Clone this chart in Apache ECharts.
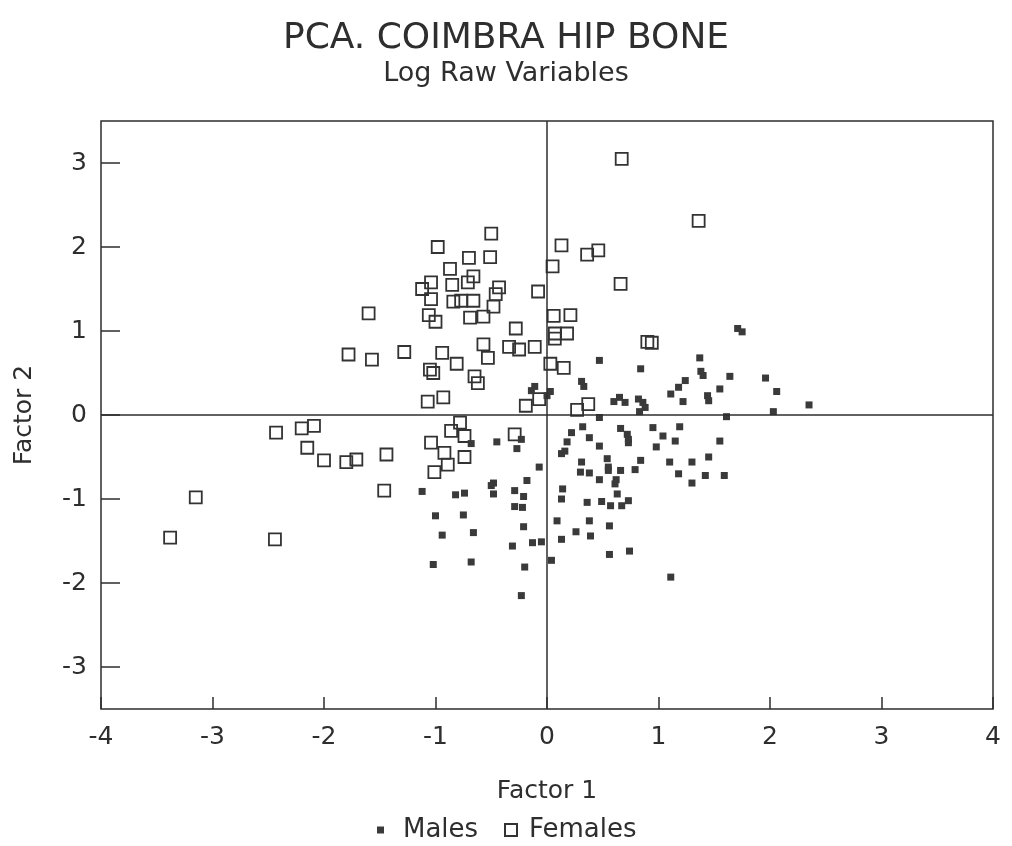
<!DOCTYPE html>
<html><head><meta charset="utf-8">
<script src="https://cdn.jsdelivr.net/npm/echarts@6/dist/echarts.min.js"></script>
<style>html,body{margin:0;padding:0;background:#fff}#c{width:1012px;height:846px}</style>
</head><body><div id="c"></div>
<script>
const titleText = 'PCA. COIMBRA HIP BONE';
const subtitleText = 'Log Raw Variables';
const xAxisName = 'Factor 1';
const yAxisName = 'Factor 2';
const seriesNames = ['Males', 'Females'];
const xTickValues = [-4, -3, -2, -1, 0, 1, 2, 3, 4];
const yTickValues = [-3, -2, -1, 0, 1, 2, 3];

const males = [
[1.71,1.03],[1.75,0.99],[0.47,0.65],[1.37,0.68],[0.84,0.55],[1.38,0.52],[1.40,0.47],[1.64,0.46],[1.96,0.44],
[0.31,0.40],[0.33,0.34],[1.24,0.41],[1.18,0.33],[1.11,0.25],[1.55,0.31],[2.06,0.28],[0.03,0.28],[0.00,0.23],
[0.60,0.16],[0.65,0.21],[0.70,0.15],[0.82,0.19],[0.86,0.15],[0.88,0.09],[0.83,0.04],[1.22,0.16],[1.44,0.23],
[1.45,0.17],[2.35,0.12],[2.03,0.04],[0.47,-0.03],[1.61,-0.02],[1.55,-0.31],[1.45,-0.50],[1.30,-0.56],[1.42,-0.72],
[1.59,-0.72],[1.30,-0.81],[0.32,-0.14],[0.22,-0.21],[0.18,-0.32],[0.16,-0.43],[0.13,-0.46],[0.38,-0.27],[0.47,-0.37],
[0.66,-0.16],[0.72,-0.23],[0.73,-0.29],[0.73,-0.33],[0.95,-0.15],[1.04,-0.25],[1.19,-0.14],[1.15,-0.31],[0.98,-0.38],
[0.31,-0.56],[0.30,-0.68],[0.38,-0.69],[0.54,-0.52],[0.55,-0.62],[0.55,-0.66],[0.47,-0.77],[0.66,-0.66],[0.84,-0.54],
[0.79,-0.65],[0.62,-0.77],[0.61,-0.82],[1.10,-0.56],[1.18,-0.70],[0.14,-0.88],[0.13,-1.00],[0.36,-1.04],[0.49,-1.03],
[0.57,-1.08],[0.63,-0.94],[0.67,-1.08],[0.73,-1.02],[0.09,-1.26],[0.38,-1.26],[0.56,-1.32],[0.26,-1.39],[0.39,-1.44],
[0.13,-1.48],[0.56,-1.66],[0.74,-1.62],[0.04,-1.73],[1.11,-1.93],[-0.68,-0.34],[-0.45,-0.32],[-0.23,-0.29],
[-0.27,-0.40],[-0.07,-0.62],[-0.18,-0.78],[-0.48,-0.81],[-0.50,-0.84],[-0.48,-0.94],[-1.12,-0.91],[-0.82,-0.95],
[-0.74,-0.93],[-0.29,-0.90],[-0.21,-0.97],[-0.29,-1.09],[-0.22,-1.10],[-1.00,-1.20],[-0.75,-1.19],[-0.21,-1.33],
[-0.94,-1.43],[-0.66,-1.40],[-0.31,-1.56],[-0.13,-1.52],[-0.05,-1.51],[-1.02,-1.78],[-0.68,-1.75],[-0.20,-1.81],
[-0.23,-2.15],[-0.11,0.34],[-0.14,0.29]
];

const females = [
[0.67,3.05],[1.36,2.31],[-0.98,2.00],[-0.50,2.16],[-0.51,1.88],[-0.70,1.87],[-0.87,1.74],[-1.04,1.58],[-1.12,1.50],
[-0.85,1.55],[-0.66,1.65],[-0.71,1.58],[-0.43,1.52],[-0.46,1.44],[-1.04,1.38],[-0.84,1.35],[-0.77,1.36],[-0.66,1.36],
[-0.48,1.29],[-0.08,1.47],[0.13,2.02],[0.36,1.91],[0.46,1.96],[0.05,1.77],[0.66,1.56],[0.06,1.18],[0.21,1.19],
[0.07,0.97],[0.07,0.91],[0.18,0.97],[0.94,0.86],[0.90,0.87],[0.03,0.61],[0.15,0.56],[0.37,0.13],[0.27,0.06],
[-1.06,1.19],[-1.00,1.11],[-0.69,1.16],[-0.57,1.17],[-0.28,1.03],[-1.28,0.75],[-0.94,0.74],[-0.57,0.84],[-0.53,0.68],
[-0.34,0.81],[-0.25,0.78],[-0.11,0.81],[-1.05,0.54],[-1.02,0.50],[-0.81,0.61],[-0.65,0.46],[-0.62,0.38],[-1.07,0.16],
[-0.93,0.21],[-0.19,0.11],[-0.07,0.19],[-1.60,1.21],[-1.78,0.72],[-1.57,0.66],[-2.43,-0.21],[-2.20,-0.16],[-2.09,-0.13],
[-2.15,-0.39],[-2.00,-0.54],[-1.80,-0.56],[-1.71,-0.53],[-1.44,-0.47],[-3.15,-0.98],[-3.38,-1.46],[-2.44,-1.48],
[-1.46,-0.90],[-0.78,-0.09],[-0.86,-0.19],[-0.74,-0.25],[-1.04,-0.33],[-0.92,-0.45],[-0.74,-0.50],[-0.89,-0.59],
[-1.01,-0.68],[-0.29,-0.23]
];

const ink = '#2e2e2e';
const font = 'DejaVu Sans';
const chart = echarts.init(document.getElementById('c'), null, {renderer: 'canvas'});
chart.setOption({
  animation: false,
  backgroundColor: '#fff',
  title: {
    text: titleText, subtext: subtitleText, left: 'center', top: 16, itemGap: 3,
    textStyle: {fontFamily: font, fontSize: 36, fontWeight: 'normal', color: ink},
    subtextStyle: {fontFamily: font, fontSize: 27, color: ink}
  },
  grid: {left: 101, right: 19, top: 121, bottom: 137, show: true, borderColor: ink, borderWidth: 1.5, backgroundColor: 'transparent'},
  legend: [
    {data: [seriesNames[0]], left: 372, top: 812, itemWidth: 7, itemHeight: 7, icon: 'rect', itemGap: 0,
     textStyle: {fontFamily: font, fontSize: 26, color: ink, padding: [0, 0, 0, 14]}},
    {data: [seriesNames[1]], left: 499, top: 812, itemWidth: 12, itemHeight: 12, icon: 'rect', itemGap: 0,
     textStyle: {fontFamily: font, fontSize: 26, color: ink, padding: [0, 0, 0, 7]}}
  ],
  xAxis: {
    type: 'value', min: -4, max: 4, interval: 1,
    name: xAxisName, nameLocation: 'middle', nameGap: 70,
    nameTextStyle: {fontFamily: font, fontSize: 25, color: ink},
    axisLine: {show: false, onZero: false},
    axisTick: {show: true, inside: true, length: 12, lineStyle: {color: ink, width: 1.5}},
    axisLabel: {margin: 16, fontFamily: font, fontSize: 25, color: ink,
      formatter: v => xTickValues.includes(v) ? String(v) : ''},
    splitLine: {show: false}
  },
  yAxis: {
    type: 'value', min: -3.5, max: 3.5,
    name: yAxisName, nameLocation: 'middle', nameGap: 64, nameRotate: 90,
    nameTextStyle: {fontFamily: font, fontSize: 25, color: ink},
    axisLine: {show: false, onZero: false},
    axisTick: {show: true, inside: true, length: 19, customValues: yTickValues, lineStyle: {color: ink, width: 1.5}},
    axisLabel: {margin: 14, fontFamily: font, fontSize: 25, color: ink, customValues: yTickValues,
      formatter: v => String(v)},
    splitLine: {show: false}
  },
  series: [
    {
      name: seriesNames[0], type: 'scatter', data: males, symbol: 'rect', symbolSize: 7,
      itemStyle: {color: '#3a3a3a', opacity: 1}, z: 3
    },
    {
      name: seriesNames[1], type: 'scatter', data: females, symbol: 'rect', symbolSize: 12,
      itemStyle: {color: 'rgba(255,255,255,0)', borderColor: '#333', borderWidth: 1.8, opacity: 1}, z: 2,
      markLine: {
        silent: true, symbol: 'none', animation: false, label: {show: false},
        lineStyle: {color: ink, width: 1.5, type: 'solid'},
        data: [{xAxis: 0}, {yAxis: 0}]
      }
    }
  ]
});
</script>
</body></html>
